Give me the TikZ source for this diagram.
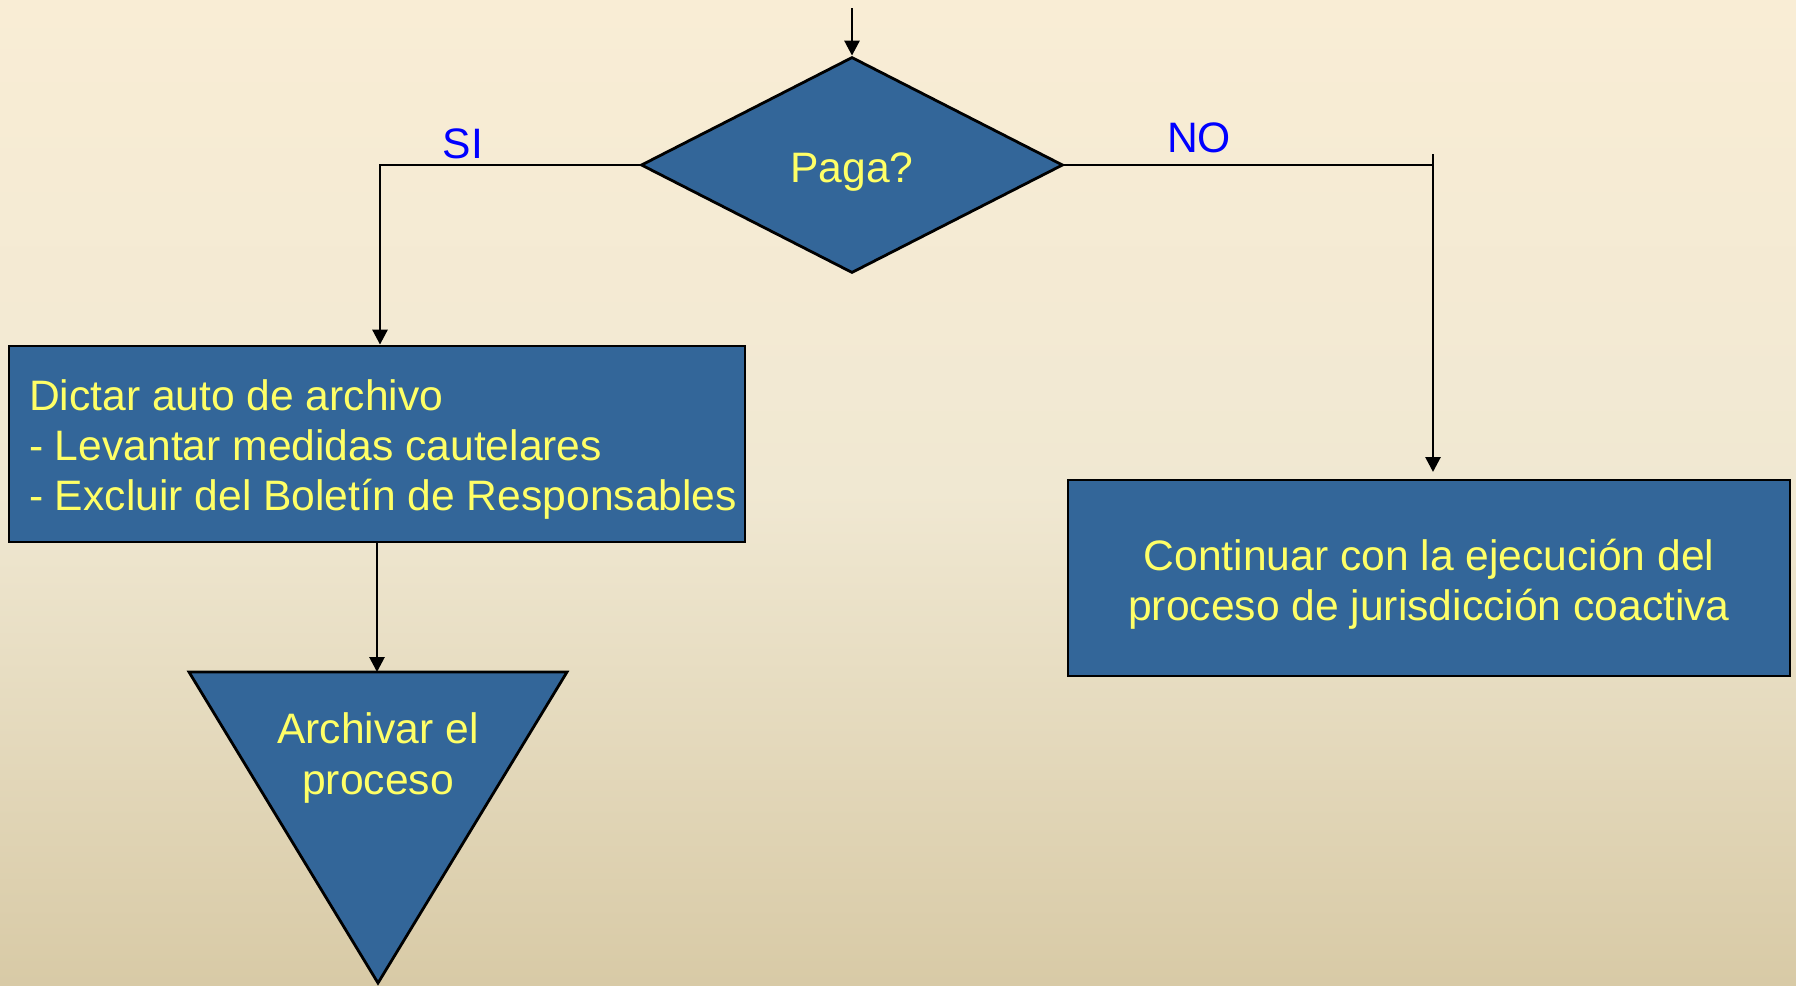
\documentclass[tikz,border=0pt]{standalone}
\usepackage{fontspec}
\setmainfont{Liberation Sans}
\usetikzlibrary{shapes.geometric,arrows.meta}
\definecolor{bgtop}{RGB}{249,237,213}
\definecolor{bgmid}{RGB}{240,232,210}
\definecolor{bgbot}{RGB}{216,202,166}
\definecolor{boxblue}{RGB}{51,102,153}
\definecolor{txtyellow}{RGB}{255,255,102}
\definecolor{lblblue}{RGB}{0,0,255}
\tikzset{
  shapebox/.style={draw=black,line width=2.8pt,fill=boxblue,text=txtyellow,font=\fontsize{42.6}{50.4}\selectfont},
  conn/.style={draw=black,line width=2.8pt},
  arr/.style={conn,-{Triangle[length=15pt,width=15pt]}},
  lbl/.style={text=lblblue,font=\fontsize{42.6}{50}\selectfont,inner sep=0pt}
}
\begin{document}
\begin{tikzpicture}[x=1pt,y=-1pt]
\useasboundingbox (0,0) rectangle (1796,985);
\shade[top color=bgtop,bottom color=bgbot,middle color=bgmid] (0,0) rectangle (1796,985);
% diamond
\node[shapebox,diamond,minimum width=422pt,minimum height=216pt,inner sep=0pt] (dia) at (852,165) {\rule{0pt}{44pt}Paga?};
% box1
\node[shapebox,rectangle,minimum width=736pt,minimum height=196pt,text width=726pt,align=flush left,inner xsep=5pt] (box1) at (377,444) {\rule{0pt}{42pt}\hspace*{15pt}Dictar auto de archivo\\\hspace*{15pt}- Levantar medidas cautelares\\\hspace*{15pt}- Excluir del Boletín de Responsables};
% box2
\node[shapebox,rectangle,minimum width=722pt,minimum height=196pt,align=center] (box2) at (1429,578) {\rule{0pt}{44pt}Continuar con la ejecución del\\proceso de jurisdicción coactiva};
% triangle
\coordinate (tl) at (189,672);
\coordinate (tr) at (567,672);
\coordinate (tb) at (378,983);
\coordinate (tritop) at (377,672);
\draw[shapebox] (tl) -- (tr) -- (tb) -- cycle;
\node[text=txtyellow,font=\fontsize{42.6}{51}\selectfont,align=center,inner sep=0pt] (tri) at (378,758) {Archivar el\\proceso};
% connectors
\coordinate (start) at (852,8);
\draw[arr] (start) -- (dia.north);
\draw[arr] (dia.west) -| ([xshift=3pt]box1.north);
\coordinate (nocorner) at (1433,154);
\coordinate (noend) at (1433,472);
\draw[conn] (dia.east) -- (dia.east -| nocorner);
\draw[arr] (nocorner) -- (noend);
\draw[arr] (box1.south) -- (tritop);
% labels
\node[lbl] (si) at (463,144) {SI};
\node[lbl] (no) at (1199,138) {NO};
\end{tikzpicture}
\end{document}
